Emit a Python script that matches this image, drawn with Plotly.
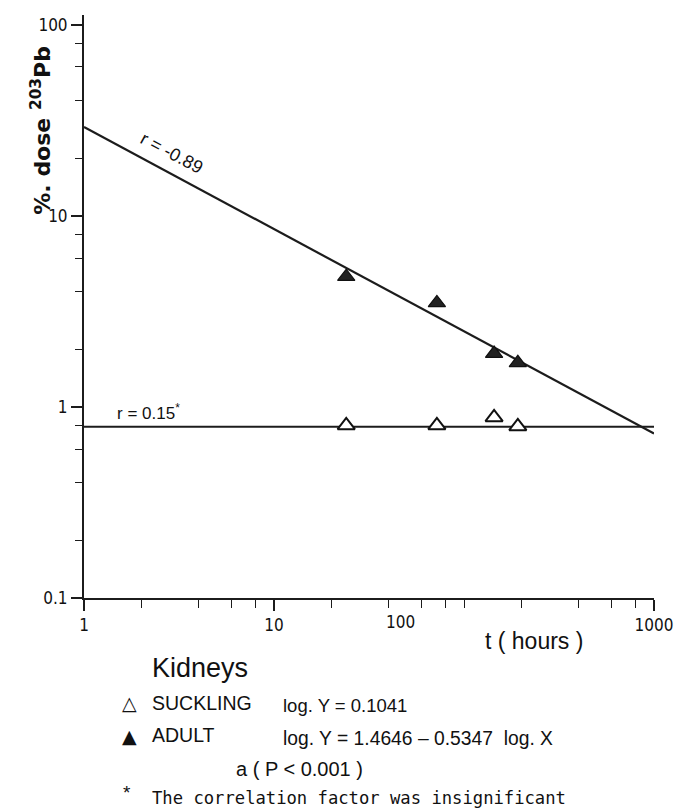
import math
import plotly.graph_objects as go

# Sampling times (hours) and kidney retention of 203Pb (% of dose)
hours = [24, 72, 144, 192]
adult_dose = [4.8, 3.5, 1.9, 1.7]
suckling_dose = [0.80, 0.80, 0.88, 0.79]

# Regression coefficients (log Y = a + b log X)
adult_a, adult_b = 1.4646, -0.5347
suckling_a = -0.1041
fit_hours = [1, 1000]

x_tickvals = [1, 10, 1000]
x_ticktext = ["1", "10", "1000"]
x_minor = [2, 4, 6, 8, 20, 40, 60, 80, 100, 200, 400, 600, 800]
y_tickvals = [0.1, 1, 10, 100]
y_ticktext = ["0.1", "1", "10", "100"]
y_minor = [0.2, 0.4, 0.6, 0.8, 2, 4, 6, 8, 20, 40, 60, 80]

adult_fit = [10 ** (adult_a + adult_b * math.log10(t)) for t in fit_hours]
suckling_fit = [10 ** suckling_a for t in fit_hours]

INK = "#1c1c1c"
FONT = "Liberation Sans, Arial, sans-serif"
TICK_FONT = "Liberation Sans Narrow, DejaVu Sans Condensed, Liberation Sans, sans-serif"

# plot area in page pixels
W, H = 685, 812
L, R, T, B = 84, 663, 15, 598


def at(px, py):
    return (px - L) / (R - L), (B - py) / (B - T)


fig = go.Figure()
fig.add_trace(go.Scatter(x=fit_hours, y=adult_fit, mode="lines",
                         line=dict(color=INK, width=2.2), showlegend=False))
fig.add_trace(go.Scatter(x=fit_hours, y=suckling_fit, mode="lines",
                         line=dict(color=INK, width=2.2), showlegend=False))
fig.add_trace(go.Scatter(x=hours, y=adult_dose, mode="markers",
                         marker=dict(symbol="triangle-up", size=15, color="#222",
                                     line=dict(color="#111", width=1.2)),
                         showlegend=False))
fig.add_trace(go.Scatter(x=hours, y=suckling_dose, mode="markers",
                         marker=dict(symbol="triangle-up", size=15, color="white",
                                     line=dict(color="#111", width=2)),
                         showlegend=False))

axis_common = dict(
    type="log", showline=True, linecolor=INK, linewidth=2, ticks="outside",
    tickcolor=INK, tickwidth=1.6, ticklen=11, showgrid=False, zeroline=False,
    tickfont=dict(family=TICK_FONT, size=17, color="#111"),
)

fig.update_xaxes(range=[0, 3], tickvals=x_tickvals, ticktext=x_ticktext,
                 minor=dict(tickvals=x_minor, ticks="outside", ticklen=8,
                            tickwidth=1.4, tickcolor=INK, showgrid=False),
                 **axis_common)
fig.update_yaxes(range=[-1, 2.05], tickvals=y_tickvals, ticktext=y_ticktext,
                 minor=dict(tickvals=y_minor, ticks="outside", ticklen=7,
                            tickwidth=1.4, tickcolor=INK, showgrid=False),
                 **axis_common)

ann = []


def text(px, py, s, size=18, anchor="left", **kw):
    x, y = at(px, py)
    ann.append(dict(x=x, y=y, xref="paper", yref="paper", text=s, showarrow=False,
                    xanchor=anchor, yanchor="middle",
                    font=dict(family=kw.pop("family", FONT), size=size, color="#111"),
                    **kw))


# axis titles and the shifted "100" label
text(40, 130, "<b>%. dose <sup>203</sup>Pb</b>", size=22, anchor="center",
     textangle=-90, family="DejaVu Sans, sans-serif")
text(405, 622, "100", size=17, anchor="center", family=TICK_FONT)
text(541, 641, "t ( hours )", size=23, anchor="center")

# correlation labels along the fitted lines
text(173, 153, "r = -0.89", size=18, anchor="center", textangle=28)
text(150, 412, "r = 0.15<sup>*</sup>", size=17, anchor="center")

# key
text(151, 668, "Kidneys", size=27)
text(121, 703, "△", size=19, family="DejaVu Sans, sans-serif")
text(151, 703, "SUCKLING", size=19.5)
text(284, 705, "log. Y = 0.1041", size=18.5)
text(121, 736, "▲", size=19, family="DejaVu Sans, sans-serif")
text(151, 735, "ADULT", size=19.5)
text(284, 739, "log. Y = 1.4646 – 0.5347  log. X", size=19.3)
text(236, 769, "a ( P &lt; 0.001 )", size=20)
text(122, 792, "*", size=19)
text(151, 798, "The correlation factor was insignificant", size=17.2,
     family="DejaVu Sans Mono, Liberation Mono, monospace")

fig.update_layout(
    width=W, height=H,
    margin=dict(l=L, r=W - R, t=T, b=H - B),
    paper_bgcolor="white", plot_bgcolor="white",
    annotations=ann, showlegend=False,
)

fig.write_html("out.html")
